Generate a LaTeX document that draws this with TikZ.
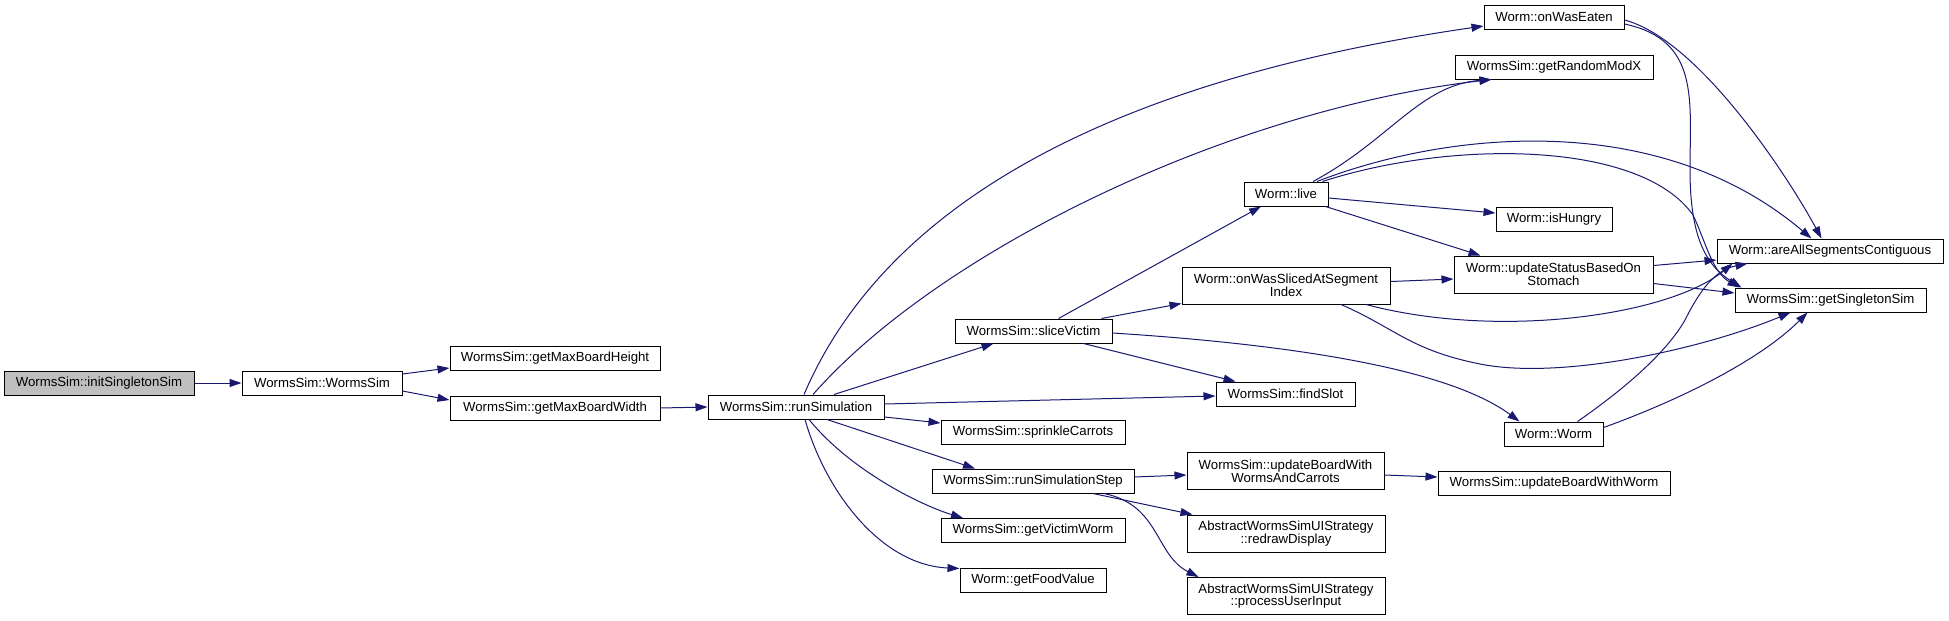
\documentclass[tikz,border=0pt]{standalone}
\usepackage{fontspec}
\setmainfont{Liberation Sans}
\usetikzlibrary{arrows.meta,calc}
\definecolor{edgec}{HTML}{191970}
\definecolor{grayfill}{HTML}{BFBFBF}
\begin{document}
\begin{tikzpicture}[x=1pt,y=-1pt,
  box/.style={draw=black,line width=1pt,fill=white,inner sep=0pt,align=center,
    font=\fontsize{13.2}{12.7}\selectfont},
  one/.style={box,minimum height=24},
  two/.style={box,minimum height=37},
  e/.style={draw=edgec,line width=1pt,-{Triangle[length=12pt,width=8pt]}}]
\useasboundingbox (0,0) rectangle (1949,621);

% nodes
\node[one,fill=grayfill,minimum width=190] (init) at (99,383) {WormsSim::initSingletonSim};
\node[one,minimum width=160] (wsim) at (322,383) {WormsSim::WormsSim};
\node[one,minimum width=210] (gmbh) at (555,358) {WormsSim::getMaxBoardHeight};
\node[one,minimum width=210] (gmbw) at (555,408) {WormsSim::getMaxBoardWidth};
\node[one,minimum width=176] (rs) at (796,407) {WormsSim::runSimulation};
\node[one,minimum width=140] (owe) at (1554,17) {Worm::onWasEaten};
\node[one,minimum width=198] (grm) at (1554,67) {WormsSim::getRandomModX};
\node[one,minimum width=84] (lv) at (1286,194) {Worm::live};
\node[one,minimum width=116] (ih) at (1554,219) {Worm::isHungry};
\node[one,minimum width=226] (at) at (1830,251) {Worm::areAllSegmentsContiguous};
\node[two,minimum width=199] (us) at (1553.5,274.5) {Worm::updateStatusBasedOn\\Stomach};
\node[one,minimum width=191] (gss) at (1830.5,300) {WormsSim::getSingletonSim};
\node[two,minimum width=208] (ows) at (1286,285.5) {Worm::onWasSlicedAtSegment\\Index};
\node[one,minimum width=157] (sv) at (1033.5,331) {WormsSim::sliceVictim};
\node[one,minimum width=139] (fs) at (1285.5,394) {WormsSim::findSlot};
\node[one,minimum width=99] (ww) at (1553.5,434) {Worm::Worm};
\node[one,minimum width=184] (sc) at (1033,432) {WormsSim::sprinkleCarrots};
\node[one,minimum width=202] (rss) at (1033,481) {WormsSim::runSimulationStep};
\node[two,minimum width=197] (ubw) at (1285.5,471) {WormsSim::updateBoardWith\\WormsAndCarrots};
\node[one,minimum width=232] (ubww) at (1554,483) {WormsSim::updateBoardWithWorm};
\node[two,minimum width=198] (rd) at (1286,533.5) {AbstractWormsSimUIStrategy\\::redrawDisplay};
\node[two,minimum width=198] (pu) at (1286,596) {AbstractWormsSimUIStrategy\\::processUserInput};
\node[one,minimum width=184] (gvw) at (1033,530.5) {WormsSim::getVictimWorm};
\node[one,minimum width=146] (gfv) at (1033,580) {Worm::getFoodValue};

% edges
\draw[e] (init.east) -- (wsim.west);
\draw[e] ($(wsim.east)+(0,-9)$) -- ($(gmbh.west)+(0,10)$);
\draw[e] ($(wsim.east)+(0,8)$) -- ($(gmbw.west)+(0,-8)$);
\draw[e] (gmbw.east) -- (rs.west);

\draw[e] ($(rs.north)+(8,0)$) .. controls (900,170) and (1180,70) .. ($(owe.west)+(0,9)$);
\draw[e] ($(rs.north)+(17,0)$) .. controls (940,250) and (1230,110) .. ($(grm.south west)+(37,0)$);
\draw[e] ($(rs.north)+(38,0)$) -- ($(sv.south)+(-40,0)$);
\draw[e] ($(rs.east)+(0,-3)$) -- ($(fs.west)+(0,2)$);
\draw[e] ($(rs.east)+(0,10)$) -- ($(sc.west)+(0,-9)$);
\draw[e] ($(rs.south)+(31,0)$) -- ($(rss.north)+(-58,0)$);
\draw[e] ($(rs.south)+(13,0)$) .. controls (850,470) and (920,505) .. ($(gvw.north)+(-70,0)$);
\draw[e] ($(rs.south)+(9,0)$) .. controls (825,490) and (880,565) .. ($(gfv.north west)+(0,1)$);

\draw[e] ($(sv.north)+(25,0)$) -- ($(lv.south)+(-25,0)$);
\draw[e] ($(sv.north)+(68,0)$) -- ($(ows.south west)+(0,-1)$);
\draw[e] ($(sv.south)+(50,0)$) -- ($(fs.north)+(-50,0)$);
\draw[e] ($(sv.east)+(0,2)$) .. controls (1300,345) and (1450,370) .. ($(ww.north)+(-34,0)$);

\draw[e] ($(lv.north)+(27,0)$) .. controls (1390,140) and (1420,85) .. ($(grm.south west)+(37,0)$);
\draw[e] ($(lv.north)+(31,0)$) .. controls (1450,130) and (1660,110) .. ($(at.north west)+(95,0)$);
\draw[e] ($(lv.north east)+(-6,0)$) .. controls (1450,140) and (1640,140) .. (1693,215)
   .. controls (1705,240) and (1712,272) .. ($(gss.north west)+(5,0)$);
\draw[e] ($(lv.east)+(0,4)$) -- ($(ih.west)+(0,-6)$);
\draw[e] ($(lv.south east)+(-3,0)$) -- ($(us.north)+(-73,0)$);

\draw[e] ($(ows.east)+(0,-4)$) -- ($(us.west)+(0,4.5)$);
\draw[e] ($(ows.south)+(80,0)$) .. controls (1500,340) and (1670,315) .. ($(at.south west)+(16,0)$);
\draw[e] ($(ows.south)+(55,0)$) .. controls (1395,328) and (1410,350) .. (1480,364)
   .. controls (1560,380) and (1700,350) .. ($(gss.south)+(-40,0)$);

\draw[e] ($(us.east)+(0,-9)$) -- ($(at.west)+(0,9)$);
\draw[e] ($(us.east)+(0,9)$) -- ($(gss.west)+(0,-7)$);

\draw[e] ($(owe.east)+(0,3)$) .. controls (1700,40) and (1790,180) .. ($(at.north west)+(105,0)$);
\draw[e] ($(owe.east)+(0,7)$) .. controls (1700,40) and (1690,100) .. (1690,170)
   .. controls (1690,235) and (1705,265) .. ($(gss.north west)+(7,0)$);

\draw[e] ($(ww.north)+(24,0)$) .. controls (1620,392) and (1665,355) .. (1685,320)
   .. controls (1700,290) and (1715,270) .. ($(at.south west)+(31,0)$);
\draw[e] ($(ww.north east)+(0,6)$) .. controls (1680,400) and (1760,360) .. ($(gss.south)+(-23,0)$);

\draw[e] ($(rss.east)+(0,-4)$) -- ($(ubw.west)+(0,4)$);
\draw[e] ($(rss.south)+(60,0)$) -- ($(rd.north west)+(6,0)$);
\draw[e] ($(rss.south)+(71,0)$) .. controls (1160,505) and (1155,555) .. ($(pu.north west)+(12,0)$);
\draw[e] ($(ubw.east)+(0,4)$) -- ($(ubww.west)+(0,-6)$);
\end{tikzpicture}
\end{document}
